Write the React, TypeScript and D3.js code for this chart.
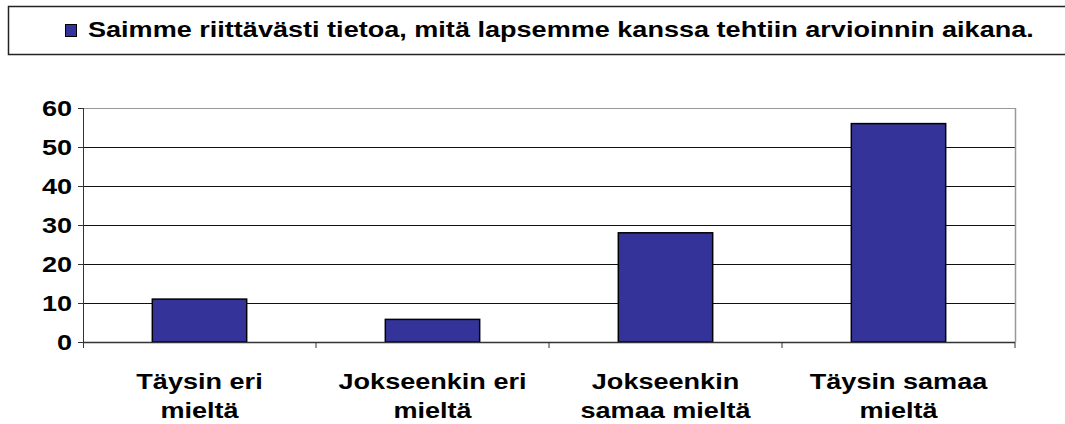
import React from 'react';
import * as d3 from 'd3';

const categories = ['Täysin eri|mieltä', 'Jokseenkin eri|mieltä', 'Jokseenkin|samaa mieltä', 'Täysin samaa|mieltä'];
const values = [11, 5.8, 28, 56];
const yTicks = [0, 10, 20, 30, 40, 50, 60];
const seriesName = 'Saimme riittävästi tietoa, mitä lapsemme kanssa tehtiin arvioinnin aikana.';

const W = 1065;
const H = 424;
const margin = { top: 108, right: 50, bottom: 82, left: 83 };
// the original text is stretched sideways
const SX = 1.23;

export default function App() {
  const innerW = W - margin.left - margin.right;
  const innerH = H - margin.top - margin.bottom;

  const x = d3.scaleBand<string>().domain(categories).range([0, innerW]).paddingInner(0.595).paddingOuter(0.2975);
  const band = d3.scaleBand<string>().domain(categories).range([0, innerW]);
  const y = d3.scaleLinear().domain([0, 60]).range([innerH, 0]);

  const font = '"Liberation Sans", Arial, sans-serif';

  return (
    <div style={{ position: 'absolute', left: 0, top: 0 }}>
      <svg width={W} height={H} style={{ display: 'block' }}>
        <rect x={0} y={0} width={W} height={H} fill="#fff" />
        {/* legend box */}
        <rect x={8.5} y={6.5} width={1070} height={48} fill="#fff" stroke="#222" strokeWidth={1.5} />
        <rect x={65.5} y={24.5} width={11} height={12} fill="#333399" stroke="#000" strokeWidth={1} />
        <text transform={`translate(88,37) scale(${SX},1)`} fontFamily={font} fontWeight="bold" fontSize={22} fill="#000">{seriesName}</text>

        <g transform={`translate(${margin.left},${margin.top})`}>
          {/* gridlines */}
          {yTicks.slice(1).map(t => (
            <line key={t} x1={0} x2={innerW} y1={Math.round(y(t)) + 0.5} y2={Math.round(y(t)) + 0.5} stroke={t === 60 ? '#999' : '#111'} strokeWidth={1} />
          ))}
          {/* right border */}
          <line x1={innerW + 0.5} x2={innerW + 0.5} y1={0} y2={innerH} stroke="#999" strokeWidth={1.5} />

          {/* bars */}
          {categories.map((c, i) => (
            <rect key={c} x={x(c)} y={y(values[i])} width={x.bandwidth()} height={innerH - y(values[i])}
              fill="#333399" stroke="#000" strokeWidth={1.5} />
          ))}

          {/* y axis */}
          <line x1={0.5} x2={0.5} y1={0} y2={innerH} stroke="#333" strokeWidth={1} />
          {yTicks.map(t => (
            <g key={t} transform={`translate(0,${Math.round(y(t)) + 0.5})`}>
              <line x1={-5} x2={0} stroke="#333" />
              <text transform={`translate(-11,0) scale(${SX},1)`} dy="0.36em" textAnchor="end" fontFamily={font} fontWeight="bold" fontSize={22} fill="#000">{t}</text>
            </g>
          ))}

          {/* x axis */}
          <line x1={0} x2={innerW} y1={innerH + 0.5} y2={innerH + 0.5} stroke="#333" strokeWidth={1.5} />
          {categories.map((c, i) => (
            <line key={'t' + c} x1={(band(c) as number) + (i === 0 ? 0.5 : 0)} x2={(band(c) as number) + (i === 0 ? 0.5 : 0)} y1={innerH} y2={innerH + 6} stroke="#333" />
          ))}
          <line x1={innerW} x2={innerW} y1={innerH} y2={innerH + 6} stroke="#333" />
          {categories.map(c => {
            const cx = (band(c) as number) + band.bandwidth() / 2;
            const lines = c.split('|');
            return (
              <g key={'l' + c} transform={`translate(${cx},0)`}>
                {lines.map((l, k) => (
                  <text key={k} transform={`translate(0,${innerH + 47 + k * 29}) scale(${SX},1)`} textAnchor="middle" fontFamily={font} fontWeight="bold" fontSize={22} fill="#000">{l}</text>
                ))}
              </g>
            );
          })}
        </g>
      </svg>
    </div>
  );
}
